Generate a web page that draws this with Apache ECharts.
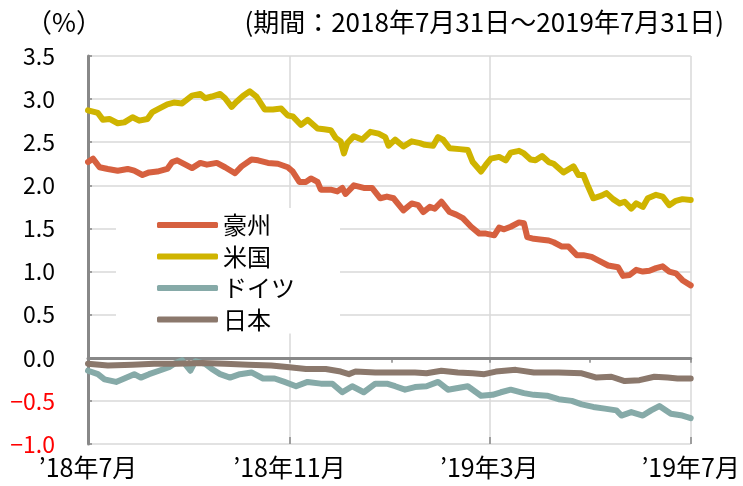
<!DOCTYPE html>
<html>
<head>
<meta charset="utf-8">
<script src="https://cdn.jsdelivr.net/npm/echarts@6/dist/echarts.min.js"></script>
<style>
html,body{margin:0;padding:0;background:#fff;}
#c{width:743px;height:486px;}
</style>
</head>
<body>
<div id="c"></div>
<script>
// x values: days elapsed since 2018-07-31
const seriesNames = ['豪州', '米国', 'ドイツ', '日本'];
const xTickDays = [0, 61, 122, 184, 243, 304, 365];
const xLabelDays = [0, 122, 243, 365];
const xLabels = ['’18年7月', '’18年11月', '’19年3月', '’19年7月'];
const periodText = '(期間：2018年7月31日～2019年7月31日)';
const unitText = '（%）';

const auDay = [0,3,7,12,18,24,28,33,37,42,48,51,54,59,63,68,72,78,83,89,93,99,103,109,115,121,124,128,132,135,139,141,147,151,154,156,161,167,172,177,181,185,191,196,200,203,207,210,214,219,223,227,232,237,241,246,249,252,256,261,264,266,270,275,279,282,287,291,296,300,305,309,315,321,324,328,332,336,340,344,348,352,356,360,365];
const auVal = [2.27,2.31,2.21,2.19,2.17,2.19,2.17,2.12,2.15,2.16,2.19,2.27,2.29,2.24,2.20,2.26,2.24,2.26,2.21,2.14,2.22,2.30,2.29,2.26,2.25,2.21,2.16,2.04,2.04,2.08,2.04,1.95,1.95,1.93,1.97,1.90,2.00,1.97,1.97,1.85,1.87,1.85,1.71,1.79,1.77,1.69,1.75,1.73,1.81,1.69,1.66,1.62,1.52,1.44,1.44,1.42,1.51,1.49,1.52,1.57,1.56,1.40,1.38,1.37,1.36,1.34,1.29,1.29,1.19,1.19,1.17,1.13,1.07,1.05,0.95,0.96,1.02,1.00,1.01,1.04,1.06,1.00,0.98,0.90,0.84];

const usDay = [0,6,9,13,18,22,27,31,36,39,43,48,52,57,63,68,71,75,80,83,87,90,94,98,102,107,112,117,121,124,129,133,139,143,147,150,153,155,157,161,166,171,176,180,182,186,191,196,201,204,209,212,215,219,225,230,233,238,241,244,249,253,256,261,264,268,271,275,279,282,288,294,297,300,303,306,311,314,318,322,325,329,332,336,339,344,348,352,356,360,365];
const usVal = [2.87,2.84,2.76,2.77,2.72,2.73,2.79,2.75,2.77,2.85,2.89,2.94,2.96,2.95,3.04,3.06,3.01,3.03,3.06,3.01,2.91,2.97,3.04,3.09,3.03,2.88,2.88,2.89,2.81,2.80,2.70,2.76,2.66,2.65,2.64,2.55,2.51,2.37,2.49,2.57,2.53,2.62,2.60,2.56,2.46,2.53,2.45,2.51,2.49,2.47,2.46,2.56,2.53,2.43,2.42,2.41,2.27,2.16,2.24,2.31,2.33,2.29,2.38,2.40,2.37,2.30,2.29,2.34,2.27,2.25,2.15,2.22,2.12,2.12,1.98,1.85,1.88,1.91,1.84,1.79,1.81,1.73,1.79,1.75,1.85,1.89,1.87,1.77,1.82,1.84,1.83];

const deDay = [0,6,10,17,22,28,32,37,43,49,53,57,62,65,71,75,80,86,92,99,106,113,119,126,133,141,148,154,160,167,174,181,186,192,198,205,212,218,224,230,238,245,250,256,264,270,278,285,293,299,306,313,320,323,329,336,341,346,353,360,365];
const deVal = [-0.15,-0.19,-0.25,-0.28,-0.24,-0.19,-0.23,-0.19,-0.15,-0.11,-0.06,-0.03,-0.15,-0.04,-0.07,-0.13,-0.19,-0.23,-0.19,-0.17,-0.24,-0.24,-0.28,-0.33,-0.28,-0.30,-0.30,-0.40,-0.33,-0.40,-0.30,-0.30,-0.33,-0.37,-0.34,-0.33,-0.28,-0.37,-0.35,-0.33,-0.44,-0.43,-0.40,-0.37,-0.41,-0.43,-0.44,-0.48,-0.50,-0.54,-0.57,-0.59,-0.61,-0.67,-0.63,-0.67,-0.61,-0.56,-0.65,-0.67,-0.70];

const jpDay = [0,12,27,40,54,69,83,97,111,122,132,144,153,158,162,174,186,198,205,214,224,233,240,247,259,270,285,299,308,317,325,334,343,351,357,365];
const jpVal = [-0.07,-0.09,-0.08,-0.07,-0.07,-0.06,-0.07,-0.08,-0.09,-0.11,-0.13,-0.13,-0.16,-0.19,-0.16,-0.17,-0.17,-0.17,-0.18,-0.15,-0.17,-0.18,-0.19,-0.16,-0.14,-0.17,-0.17,-0.18,-0.23,-0.22,-0.27,-0.26,-0.22,-0.23,-0.24,-0.24];

const colors = ['#D6603F', '#CFB400', '#86AAA8', '#8B786C'];
const FONT = '"Noto Sans CJK JP", "Noto Sans", sans-serif';

function pairs(xs, ys) { return xs.map((x, i) => [x, ys[i]]); }
const allData = [pairs(auDay, auVal), pairs(usDay, usVal), pairs(deDay, deVal), pairs(jpDay, jpVal)];

const chart = echarts.init(document.getElementById('c'), null, {renderer: 'canvas'});
const labelMap = {};
xLabelDays.forEach((d, i) => labelMap[d] = xLabels[i]);

const xCommon = {type: 'value', min: 0, max: 365, gridIndex: 0};

chart.setOption({
  backgroundColor: '#fff',
  animation: false,
  textStyle: {fontFamily: FONT},
  title: [
    {text: unitText, left: 21, top: 4, textStyle: {fontSize: 26, fontWeight: 'normal', color: '#000', fontFamily: FONT}},
    {text: periodText, right: 14, top: 4, textStyle: {fontSize: 26, fontWeight: 'normal', color: '#000', fontFamily: FONT}}
  ],
  grid: {left: 88, right: 50, top: 56, bottom: 42, containLabel: false},
  legend: {
    orient: 'vertical', left: 116, top: 208,
    padding: [5, 45, 2, 41],
    backgroundColor: '#fff',
    itemWidth: 61, itemHeight: 6, itemGap: 7.5,
    icon: 'roundRect',
    textStyle: {fontSize: 24, lineHeight: 24, color: '#000', fontFamily: FONT},
    data: seriesNames,
    z: 10
  },
  xAxis: [
    Object.assign({}, xCommon, {
      position: 'bottom',
      axisLine: {show: true, onZero: true, lineStyle: {color: '#888', width: 3}},
      axisTick: {show: true, customValues: xTickDays, length: 5, inside: false, lineStyle: {color: '#888', width: 1.5}},
      axisLabel: {show: false},
      splitLine: {show: false}
    }),
    Object.assign({}, xCommon, {
      position: 'bottom',
      axisLine: {show: false, onZero: true},
      axisTick: {show: true, customValues: xLabelDays, length: 7, inside: true, lineStyle: {color: '#888', width: 1.5}},
      axisLabel: {show: false},
      splitLine: {show: false}
    }),
    Object.assign({}, xCommon, {
      position: 'bottom',
      axisLine: {show: false, onZero: false},
      axisTick: {show: false, customValues: xLabelDays},
      axisLabel: {show: true, customValues: xLabelDays, margin: 11, fontSize: 25, color: '#000', fontFamily: FONT,
        formatter: v => labelMap[Math.round(v)] || ''},
      splitLine: {show: true, lineStyle: {color: '#d9d9d9', width: 1.5}}
    })
  ],
  yAxis: {
    type: 'value', min: -1, max: 3.5, interval: 0.5,
    axisLine: {show: true, lineStyle: {color: '#888', width: 3}},
    axisTick: {show: true, inside: true, length: 4, lineStyle: {color: '#888', width: 1.5}},
    axisLabel: {
      margin: 33, fontSize: 23, fontFamily: FONT,
      formatter: v => (v < 0 ? '−' + Math.abs(v).toFixed(1) : v.toFixed(1)),
      color: v => (Number(v) < 0 ? '#FF0000' : '#000')
    },
    splitLine: {show: true, lineStyle: {color: '#d9d9d9', width: 1.5}}
  },
  series: seriesNames.map((name, i) => ({
    name: name,
    type: 'line',
    xAxisIndex: 0,
    data: allData[i],
    showSymbol: false,
    symbol: 'none',
    color: colors[i],
    lineStyle: {color: colors[i], width: 6, cap: 'round', join: 'round'},
    z: 3
  }))
});
</script>
</body>
</html>
